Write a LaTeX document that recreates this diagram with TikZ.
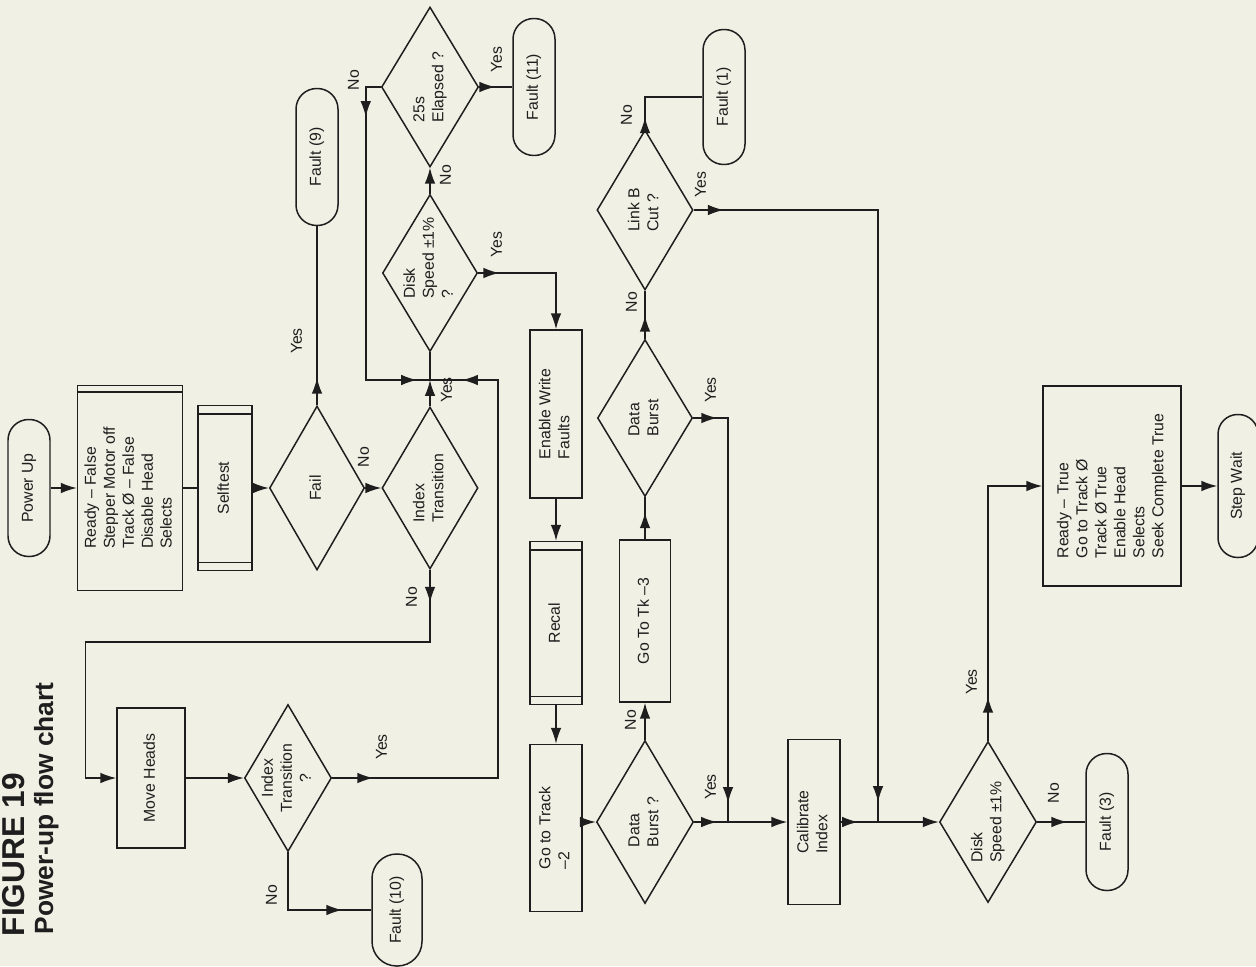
\documentclass[tikz,border=0pt]{standalone}
\usepackage{fontspec}
\setmainfont{Liberation Sans}
\usepackage{graphicx}
\usetikzlibrary{shapes.geometric,arrows.meta,decorations.markings}
\definecolor{paper}{HTML}{F1F0E4}
\definecolor{ink}{HTML}{1E1E1E}
\newcommand{\rtxt}[2][@{}l@{}]{\makebox[0pt]{\raisebox{-0.5\height}[0pt][0pt]{\rotatebox{90}{\begin{tabular}{#1}#2\end{tabular}}}}}
\tikzset{
  wh/.style 2 args={minimum width=#1*0.02cm, minimum height=#2*0.02cm},
  box/.style 2 args={draw, wh={#1}{#2}, inner sep=0pt},
  term/.style 2 args={draw, wh={#1}{#2}, inner sep=0pt, rounded corners=#1*0.01cm-0.2pt},
  dia/.style 2 args={draw, diamond, wh={#1}{#2}, inner sep=0pt},
  lbl/.style={inner sep=0pt},
  ttl/.style={inner sep=0pt, rotate=90, anchor=base west},
  arr/.style={-{Latex[length=9pt,width=6pt]}},
  midarr/.style={postaction={decorate, decoration={markings, mark=at position #1 with {\arrow{Latex[length=9pt,width=6pt]}}}}}
}
\begin{document}
\begin{tikzpicture}[x=0.02cm, y=-0.02cm, line width=0.85pt, color=ink,
  every node/.style={font=\fontsize{9}{10.8}\selectfont}]
\fill[paper] (0,0) rectangle (1256,966);
\useasboundingbox (0,0) rectangle (1256,966);

\node[ttl, font=\bfseries\fontsize{18}{20}\selectfont] (fig) at (24,937) {FIGURE 19};
\node[ttl, font=\bfseries\fontsize{15}{18}\selectfont] (cap) at (53,935) {Power-up flow chart};

\node[term={42}{137}] (pwr) at (29,488) {\rtxt{Power Up}};
\node[box={105}{205}] (rdyF) at (130,488) {\rtxt{Ready – False\\Stepper Motor off\\Track Ø – False\\Disable Head\\Selects}};
\node[box={54}{165}] (self) at (225,488) {\rtxt{Selftest}};
\node[dia={95}{164}] (fail) at (317,488) {\rtxt{Fail}};
\node[dia={96}{162}] (idxA) at (430,488) {\rtxt{Index\\Transition}};
\coordinate (j1) at (430,380);
\node[dia={95}{157}] (diskA) at (430,273) {\rtxt[@{\hspace{17pt}}l@{}]{Disk\\Speed ±1\%\\?}};
\node[dia={97}{160}] (t25) at (430,87) {\rtxt{25s\\Elapsed ?}};
\node[term={42}{137}] (f9) at (317,157) {\rtxt{Fault (9)}};
\node[term={42}{137}] (f11) at (534,87) {\rtxt{Fault (11)}};
\node[box={52}{168}] (enw) at (556,414) {\rtxt{Enable Write\\Faults}};
\node[box={52}{163}] (recal) at (556,623) {\rtxt{Recal}};
\node[box={52}{167}] (got2) at (556,828) {\rtxt{Go to Track\\–2}};
\node[dia={97}{163}] (dbb) at (645,822) {\rtxt{Data\\Burst ?}};
\node[box={51}{162}] (gotk3) at (645,621) {\rtxt{Go To Tk –3}};
\node[dia={95}{157}] (dba) at (645,418) {\rtxt{Data\\Burst}};
\node[dia={96}{160}] (linkb) at (645,210) {\rtxt{Link B\\Cut ?}};
\node[term={42}{135}] (f1) at (724,97) {\rtxt{Fault (1)}};
\coordinate (j2) at (728,822);
\node[box={52}{165}] (calib) at (814,822) {\rtxt{Calibrate\\Index}};
\coordinate (j3) at (878,822);
\node[dia={97}{161}] (diskb) at (988,822) {\rtxt{Disk\\Speed ±1\%}};
\node[term={42}{137}] (f3) at (1107,822) {\rtxt{Fault (3)}};
\node[box={138}{200}] (rdyT) at (1112,486) {\rtxt{Ready – True\\Go to Track Ø\\Track Ø True\\Enable Head\\Selects\\Seek Complete True}};
\node[term={40}{143}] (stepw) at (1238,486) {\rtxt{Step Wait}};
\node[box={68}{140}] (moveh) at (151,778) {\rtxt{Move Heads}};
\node[dia={87}{147}] (idxb) at (288,778) {\rtxt[@{}c@{}]{Index\\Transition\\?}};
\node[term={50}{112}] (f10) at (397,910) {\rtxt{Fault (10)}};

\draw ([yshift=-0.14cm]rdyF.north west) -- ([yshift=-0.14cm]rdyF.north east);
\foreach \n in {self,recal}{
  \draw ([yshift=-0.18cm]\n.north west) -- ([yshift=-0.18cm]\n.north east);
  \draw ([yshift=0.18cm]\n.south west) -- ([yshift=0.18cm]\n.south east);
}

\node[lbl] (failyes) at (298,341) {\rtxt{Yes}};
\node[lbl] (failno) at (365,457) {\rtxt{No}};
\node[lbl] (idxAyes) at (448,390) {\rtxt{Yes}};
\node[lbl] (idxAno) at (413,597) {\rtxt{No}};
\node[lbl] (diskAyes) at (498,245) {\rtxt{Yes}};
\node[lbl] (diskAno) at (447,175) {\rtxt{No}};
\node[lbl] (t25no) at (355,80) {\rtxt{No}};
\node[lbl] (t25yes) at (498,60) {\rtxt{Yes}};
\node[lbl] (dbbno) at (632,720) {\rtxt{No}};
\node[lbl] (dbbyes) at (712,787) {\rtxt{Yes}};
\node[lbl] (dbano) at (633,302) {\rtxt{No}};
\node[lbl] (dbayes) at (712,390) {\rtxt{Yes}};
\node[lbl] (linkbno) at (628,115) {\rtxt{No}};
\node[lbl] (linkbyes) at (702,185) {\rtxt{Yes}};
\node[lbl] (diskbno) at (1055,793) {\rtxt{No}};
\node[lbl] (diskbyes) at (973,682) {\rtxt{Yes}};
\node[lbl] (idxbyes) at (383,747) {\rtxt{Yes}};
\node[lbl] (idxbno) at (273,895) {\rtxt{No}};

\draw[arr] (pwr.east) -- (rdyF.west);
\draw (rdyF.east) -- (self.west);
\draw[arr] (self.east) -- (fail.west);
\draw[midarr=0.55cm] (fail.north) -- (f9.south);
\draw[arr] (fail.east) -- (idxA.west);
\draw[arr] (idxA.north) -- (j1);
\draw (j1) -- (diskA.south);
\draw[arr] (diskA.north) -- (t25.south);
\draw[midarr=0.9cm, midarr=-0.26cm] (t25.west) -- ++(-15,0) |- (j1);
\draw[midarr=-0.34cm] (t25.east) -- (f11.west);
\draw[midarr=0.42cm, arr] (diskA.east) -| (enw.north);
\draw[arr] (enw.south) -- (recal.north);
\draw[arr] (recal.south) -- (got2.north);
\draw[arr] (got2.east |- dbb.west) -- (dbb.west);
\draw[arr] (dbb.north) -- (gotk3.south);
\draw[midarr=-0.3cm] (gotk3.north) -- (dba.south);
\draw[midarr=-0.5cm] (dba.north) -- (linkb.south);
\draw[midarr=0.24cm] (linkb.north) |- (f1.west);
\draw[midarr=0.6cm, midarr=-0.4cm] (linkb.east) -| (j3);
\draw[midarr=0.48cm, midarr=-0.38cm] (dba.east) -| (j2);
\draw[midarr=-0.22cm] (dbb.east) -- (j2);
\draw[arr] (j2) -- (calib.west);
\draw[midarr=-0.4cm] (calib.east) -- (j3);
\draw[arr] (j3) -- (diskb.west);
\draw[midarr=-0.36cm] (diskb.east) -- (f3.west);
\draw[midarr=0.88cm, arr] (diskb.north) |- (rdyT.west);
\draw[arr] (rdyT.east) -- (stepw.west);
\draw[midarr=0.66cm, arr] (idxA.south) -- ++(0,72) -| ([xshift=-0.62cm]moveh.west) -- (moveh.west);
\draw[arr] (moveh.east) -- (idxb.west);
\draw[midarr=-0.58cm] (idxb.south) |- (f10.west);
\draw[midarr=0.82cm, midarr=-0.64cm] (idxb.east) -| ([xshift=1.36cm]j1) -- (j1);
\end{tikzpicture}
\end{document}
